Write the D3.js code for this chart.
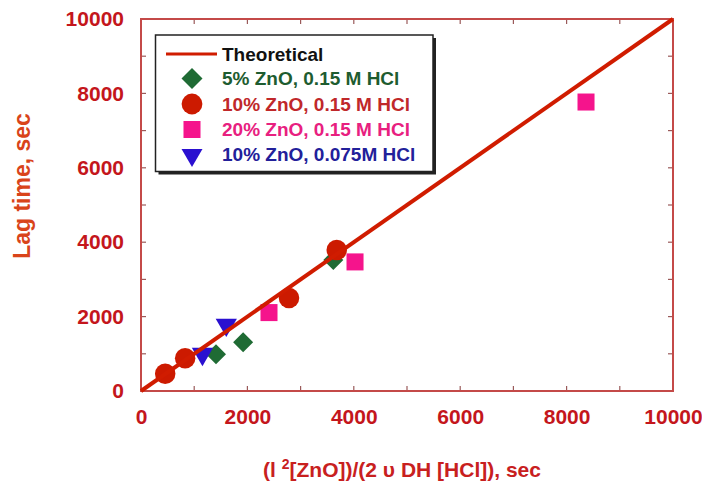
<!DOCTYPE html>
<html><head><meta charset="utf-8">
<script src="https://cdn.jsdelivr.net/npm/d3@7"></script>
<style>
html,body{margin:0;padding:0;background:#fff;}
svg{display:block;font-family:"Liberation Sans",Arial,sans-serif;font-weight:bold;}
</style></head>
<body><svg id="c" width="702" height="486"></svg>
<script>
// ---- data ----
const theoreticalX = [0, 10000];
const zn5_hcl015 = [[1410, 991], [1920, 1313], [3615, 3524]];          // green diamonds
const zn10_hcl015 = [[455, 465], [830, 880], [2782, 2503], [3679, 3793]]; // red circles
const zn20_hcl015 = [[2406, 2108], [4023, 3470], [8365, 7768]];        // pink squares
const zn10_hcl0075 = [[1155, 995], [1603, 1778]];                      // blue triangles
const xTicks = [0, 2000, 4000, 6000, 8000, 10000];
const yTicks = [0, 2000, 4000, 6000, 8000, 10000];
const minorTicks = [1000, 3000, 5000, 7000, 9000];
const legendLabels = ["Theoretical", "5% ZnO, 0.15 M HCl", "10% ZnO, 0.15 M HCl", "20% ZnO, 0.15 M HCl", "10% ZnO, 0.075M HCl"];

const svg = d3.select("#c");
const L = 141, R = 673, T = 19, B = 391;
const x = d3.scaleLinear().domain([0, 10000]).range([L, R]);
const y = d3.scaleLinear().domain([0, 10000]).range([B, T]);

const frameCol = "#c44a48";
const tickCol = "#9a5a5a";
const labCol = "#c4161c";

// ticks (inward, all sides)
const allT = xTicks.concat(minorTicks);
const tk = svg.append("g").attr("stroke", tickCol).attr("stroke-width", 1.2);
allT.forEach(v => {
  tk.append("line").attr("x1", x(v)).attr("x2", x(v)).attr("y1", B).attr("y2", B - 5);
  tk.append("line").attr("x1", x(v)).attr("x2", x(v)).attr("y1", T).attr("y2", T + 5);
  tk.append("line").attr("y1", y(v)).attr("y2", y(v)).attr("x1", L).attr("x2", L + 5);
  tk.append("line").attr("y1", y(v)).attr("y2", y(v)).attr("x1", R).attr("x2", R - 5);
});

// axes via d3 for labels
const xAxis = d3.axisBottom(x).tickValues(xTicks).tickSize(0).tickPadding(18).tickFormat(d3.format("d"));
const gx = svg.append("g").attr("transform", `translate(0,${B})`).call(xAxis);
gx.select(".domain").remove();
gx.selectAll("text").attr("fill", labCol).style("font-size", "21px").style("font-family", "Liberation Sans, Arial, sans-serif").style("font-weight", "bold");

const yAxis = d3.axisLeft(y).tickValues(yTicks).tickSize(0).tickPadding(17).tickFormat(d3.format("d"));
const gy = svg.append("g").attr("transform", `translate(${L},0)`).call(yAxis);
gy.select(".domain").remove();
gy.selectAll("text").attr("fill", labCol).style("font-size", "21px").style("font-family", "Liberation Sans, Arial, sans-serif").style("font-weight", "bold");

// frame
svg.append("rect").attr("x", L).attr("y", T).attr("width", R - L).attr("height", B - T)
  .attr("fill", "none").attr("stroke", frameCol).attr("stroke-width", 2);

// markers
const cGreen = "#1f6b34", cRed = "#cc1a00", cPink = "#f5148c", cBlue = "#2a10d0";
const sym = (type, size) => d3.symbol().type(type).size(size)();
const mk = svg.append("g");
mk.selectAll(".sq").data(zn20_hcl015).join("path")
  .attr("d", sym(d3.symbolSquare, 290)).attr("fill", cPink)
  .attr("transform", d => `translate(${x(d[0])},${y(d[1])})`);
mk.selectAll(".dm").data(zn5_hcl015).join("path")
  .attr("d", sym(d3.symbolSquare, 200)).attr("fill", cGreen)
  .attr("transform", d => `translate(${x(d[0])},${y(d[1])}) rotate(45)`);
mk.selectAll(".tr").data(zn10_hcl0075).join("path")
  .attr("d", sym(d3.symbolTriangle, 195)).attr("fill", cBlue)
  .attr("transform", d => `translate(${x(d[0])},${y(d[1])}) rotate(180)`);
mk.selectAll(".ci").data(zn10_hcl015).join("path")
  .attr("d", sym(d3.symbolCircle, 330)).attr("fill", cRed)
  .attr("transform", d => `translate(${x(d[0])},${y(d[1])})`);

// theoretical line
svg.append("path").datum(theoreticalX)
  .attr("d", d3.line().x(d => x(d)).y(d => y(d)))
  .attr("stroke", "#d01c00").attr("stroke-width", 4).attr("fill", "none");

// legend
const lg = svg.append("g");
lg.append("rect").attr("x", 158.5).attr("y", 38).attr("width", 277.5).attr("height", 136.5).attr("fill", "#222");
lg.append("rect").attr("x", 155.5).attr("y", 35).attr("width", 277.5).attr("height", 136.5).attr("fill", "#fff").attr("stroke", "#222").attr("stroke-width", 1.5);
const rowsY = [54, 78.5, 104, 129.5, 154];
const tcols = ["#111", "#1e5c30", "#c0282a", "#e8207f", "#22209a"];
lg.append("line").attr("x1", 166).attr("x2", 217).attr("y1", rowsY[0]).attr("y2", rowsY[0]).attr("stroke", "#d01c00").attr("stroke-width", 3);
const mx = 192;
lg.append("path").attr("d", sym(d3.symbolSquare, 220)).attr("fill", cGreen).attr("transform", `translate(${mx},${rowsY[1]}) rotate(45)`);
lg.append("path").attr("d", sym(d3.symbolCircle, 340)).attr("fill", cRed).attr("transform", `translate(${mx},${rowsY[2]})`);
lg.append("path").attr("d", sym(d3.symbolSquare, 290)).attr("fill", cPink).attr("transform", `translate(${mx},${rowsY[3]})`);
lg.append("path").attr("d", sym(d3.symbolTriangle, 190)).attr("fill", cBlue).attr("transform", `translate(${mx},${rowsY[4] + 1}) rotate(180)`);
legendLabels.forEach((t, i) => {
  lg.append("text").attr("x", 222).attr("y", rowsY[i]).attr("dy", "0.35em")
    .attr("fill", tcols[i]).style("font-size", "19px").text(t);
});

// axis titles
svg.append("text").attr("transform", "translate(30,186) rotate(-90)").attr("text-anchor", "middle")
  .attr("fill", "#d9441a").style("font-size", "23px").text("Lag time, sec");
const xt = svg.append("text").attr("x", 402).attr("y", 477).attr("text-anchor", "middle")
  .attr("fill", "#c8201e").style("font-size", "21px");
xt.append("tspan").text("(l ");
xt.append("tspan").attr("dy", -8).style("font-size", "14px").text("2");
xt.append("tspan").attr("dy", 8).text("[ZnO])/(2  υ DH [HCl]), sec");
</script></body></html>
